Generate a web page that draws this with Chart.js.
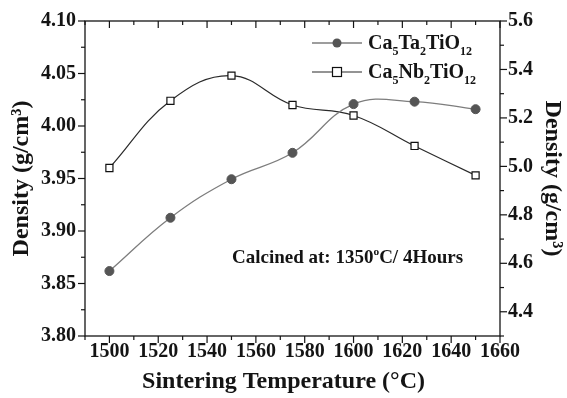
<!DOCTYPE html>
<html>
<head>
<meta charset="utf-8">
<script src="https://cdn.jsdelivr.net/npm/chart.js@4.4.1/dist/chart.umd.min.js"></script>
<style>
html, body { margin: 0; padding: 0; background: #fff; }
#wrap { width: 567px; height: 398px; }
</style>
</head>
<body>
<div id="wrap"><canvas id="density-chart" width="567" height="398"></canvas></div>
<script>
// Sintering temperature (°C) and measured densities (g/cm3)
const temperatures = [1500, 1525, 1550, 1575, 1600, 1625, 1650];
const taDensity = [4.568, 4.788, 4.947, 5.056, 5.257, 5.267, 5.236]; // right axis
const nbDensity = [3.960, 4.024, 4.048, 4.020, 4.010, 3.981, 3.953]; // left axis

const xTicks = [1500, 1520, 1540, 1560, 1580, 1600, 1620, 1640, 1660];
const leftTicks = [3.80, 3.85, 3.90, 3.95, 4.00, 4.05, 4.10];
const rightTicks = [4.4, 4.6, 4.8, 5.0, 5.2, 5.4, 5.6];

const seriesLabels = ['Ca_{5}Ta_{2}TiO_{12}', 'Ca_{5}Nb_{2}TiO_{12}'];
const noteText = 'Calcined at: 1350^{o}C/ 4Hours';

const FONT = "'Liberation Serif', 'Times New Roman', serif";
const INK = '#141414';

// draw text with _{sub} and ^{sup} parts
const drawRich = (ctx, text, x, y, size) => {
    const parts = text.split(/([_^]\{[^}]*\})/).filter(Boolean);
    let cx = x;
    parts.forEach(p => {
        let t = p, s = size, dy = 0;
        if (p.startsWith('_{')) { t = p.slice(2, -1); s = size * 0.6; dy = size * 0.28; }
        else if (p.startsWith('^{')) { t = p.slice(2, -1); s = size * 0.6; dy = -size * 0.4; }
        ctx.font = `bold ${s}px ${FONT}`;
        ctx.fillText(t, cx, y + dy);
        cx += ctx.measureText(t).width;
    });
};

const framePlugin = {
    id: 'frame',
    afterDatasetsDraw(chart) {
        const { ctx, chartArea: a, scales } = chart;
        ctx.save();
        ctx.strokeStyle = INK;
        ctx.lineWidth = 1.3;
        ctx.strokeRect(a.left, a.top, a.right - a.left, a.bottom - a.top);
        ctx.lineWidth = 1.2;
        const line = (x1, y1, x2, y2) => {
            ctx.beginPath(); ctx.moveTo(x1, y1); ctx.lineTo(x2, y2); ctx.stroke();
        };
        // x ticks: major 20, minor 10
        const xs = scales.x;
        for (let i = 0; i <= 17; i++) {
            const v = 1490 + i * 10;
            const px = xs.getPixelForValue(v);
            const len = v % 20 === 0 ? 7 : 4;
            line(px, a.bottom, px, a.bottom + len);
            line(px, a.top, px, a.top + len);
        }
        // left ticks: major 0.05, minor 0.025
        const yl = scales.y;
        for (let i = 0; i <= 12; i++) {
            const py = yl.getPixelForValue(3.8 + i * 0.025);
            line(a.left, py, a.left - (i % 2 === 0 ? 7 : 4), py);
        }
        // right ticks: major 0.2, minor 0.1
        const yr = scales.y2;
        for (let i = 0; i <= 13; i++) {
            const v = 4.3 + i * 0.1;
            const py = yr.getPixelForValue(v);
            line(a.right, py, a.right + (i % 2 === 1 ? 7 : 4), py);
        }
        ctx.restore();
    },
    afterDraw(chart) {
        const { ctx } = chart;
        ctx.save();
        ctx.fillStyle = INK;
        ctx.textBaseline = 'alphabetic';
        // legend
        const rows = [43, 72];
        chart.data.datasets.forEach((ds, i) => {
            const y = rows[i];
            ctx.strokeStyle = ds.borderColor;
            ctx.lineWidth = ds.borderWidth;
            ctx.beginPath(); ctx.moveTo(312, y); ctx.lineTo(362, y); ctx.stroke();
            ctx.fillStyle = ds.pointBackgroundColor;
            ctx.strokeStyle = ds.pointBorderColor;
            ctx.lineWidth = ds.pointBorderWidth;
            if (ds.pointStyle === 'rect') {
                ctx.fillRect(332.5, y - 4.5, 9, 9);
                ctx.strokeRect(332.5, y - 4.5, 9, 9);
            } else {
                ctx.beginPath(); ctx.arc(337, y, ds.pointRadius, 0, Math.PI * 2); ctx.fill();
            }
            ctx.fillStyle = INK;
            drawRich(ctx, ds.label, 368, y + 6, 20);
        });
        // note
        drawRich(ctx, noteText, 232, 263, 19);
        ctx.restore();
    }
};

const tickFont = { family: FONT, size: 20, weight: 'bold' };
const titleFont = { family: FONT, size: 24, weight: 'bold' };

new Chart(document.getElementById('density-chart'), {
    type: 'line',
    data: {
        labels: temperatures,
        datasets: [
            {
                label: seriesLabels[0],
                data: temperatures.map((t, i) => ({ x: t, y: taDensity[i] })),
                yAxisID: 'y2',
                borderColor: '#7d7d7d',
                borderWidth: 1.3,
                tension: 0.4,
                pointStyle: 'circle',
                pointRadius: 4.5,
                pointBackgroundColor: '#555',
                pointBorderColor: '#555',
                pointBorderWidth: 1
            },
            {
                label: seriesLabels[1],
                data: temperatures.map((t, i) => ({ x: t, y: nbDensity[i] })),
                yAxisID: 'y',
                borderColor: '#2a2a2a',
                borderWidth: 1.2,
                tension: 0.4,
                pointStyle: 'rect',
                pointRadius: 5,
                pointBackgroundColor: '#fff',
                pointBorderColor: '#111',
                pointBorderWidth: 1.2
            }
        ]
    },
    options: {
        responsive: false,
        animation: false,
        devicePixelRatio: 1,
        layout: { padding: { top: 21, left: 0, right: 0, bottom: 0 } },
        plugins: { legend: { display: false }, tooltip: { enabled: false } },
        scales: {
            x: {
                type: 'linear',
                min: 1490,
                max: 1660,
                afterBuildTicks: s => { s.ticks = xTicks.map(v => ({ value: v })); },
                afterFit: s => { s.height = 62; },
                grid: { display: false, drawTicks: false },
                border: { display: false },
                ticks: { color: INK, font: tickFont, padding: 4, maxRotation: 0, autoSkip: false, callback: v => String(v) },
                title: { display: true, text: 'Sintering Temperature (°C)   ', color: INK, font: titleFont, padding: { top: 0, bottom: 2 } }
            },
            y: {
                position: 'left',
                min: 3.8,
                max: 4.1,
                afterBuildTicks: s => { s.ticks = leftTicks.map(v => ({ value: v })); },
                afterFit: s => { s.width = 85; },
                grid: { display: false, drawTicks: false },
                border: { display: false },
                ticks: { color: INK, font: tickFont, padding: 9, autoSkip: false, callback: v => v.toFixed(2) },
                title: { display: true, text: 'Density (g/cm³)', color: INK, font: titleFont, padding: { top: 7, bottom: 0 } }
            },
            y2: {
                position: 'right',
                min: 4.3,
                max: 5.6,
                afterBuildTicks: s => { s.ticks = rightTicks.map(v => ({ value: v })); },
                afterFit: s => { s.width = 67; },
                grid: { display: false, drawTicks: false },
                border: { display: false },
                ticks: { color: INK, font: tickFont, padding: 8, autoSkip: false, callback: v => v.toFixed(1) },
                title: { display: true, text: 'Density (g/cm³)', color: INK, font: titleFont, padding: { top: 0, bottom: 0 } }
            }
        }
    },
    plugins: [framePlugin]
});
</script>
</body>
</html>
